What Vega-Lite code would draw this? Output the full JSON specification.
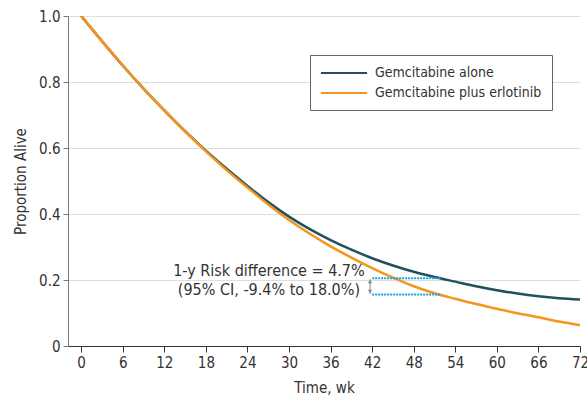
{
  "$schema": "https://vega.github.io/schema/vega-lite/v6.json",
  "width": 512,
  "height": 330,
  "autosize": {"type": "none"},
  "padding": {"left": 68, "top": 16, "right": 7, "bottom": 50},
  "background": "white",
  "config": {
    "font": "DejaVu Sans Condensed, DejaVu Sans, sans-serif",
    "view": {"stroke": null},
    "axis": {"labelFontSize": 15, "titleFontSize": 15, "titleFontWeight": "normal", "labelColor": "#333", "titleColor": "#333"}
  },
  "datasets": {
    "curves": [
      {"t": 0, "s": 1.000, "g": "Gemcitabine alone"},
      {"t": 3, "s": 0.924, "g": "Gemcitabine alone"},
      {"t": 6, "s": 0.850, "g": "Gemcitabine alone"},
      {"t": 9, "s": 0.780, "g": "Gemcitabine alone"},
      {"t": 12, "s": 0.714, "g": "Gemcitabine alone"},
      {"t": 15, "s": 0.651, "g": "Gemcitabine alone"},
      {"t": 18, "s": 0.592, "g": "Gemcitabine alone"},
      {"t": 21, "s": 0.537, "g": "Gemcitabine alone"},
      {"t": 24, "s": 0.485, "g": "Gemcitabine alone"},
      {"t": 27, "s": 0.436, "g": "Gemcitabine alone"},
      {"t": 30, "s": 0.392, "g": "Gemcitabine alone"},
      {"t": 33, "s": 0.354, "g": "Gemcitabine alone"},
      {"t": 36, "s": 0.321, "g": "Gemcitabine alone"},
      {"t": 39, "s": 0.292, "g": "Gemcitabine alone"},
      {"t": 42, "s": 0.266, "g": "Gemcitabine alone"},
      {"t": 45, "s": 0.244, "g": "Gemcitabine alone"},
      {"t": 48, "s": 0.225, "g": "Gemcitabine alone"},
      {"t": 51, "s": 0.209, "g": "Gemcitabine alone"},
      {"t": 54, "s": 0.195, "g": "Gemcitabine alone"},
      {"t": 57, "s": 0.181, "g": "Gemcitabine alone"},
      {"t": 60, "s": 0.169, "g": "Gemcitabine alone"},
      {"t": 63, "s": 0.159, "g": "Gemcitabine alone"},
      {"t": 66, "s": 0.151, "g": "Gemcitabine alone"},
      {"t": 69, "s": 0.145, "g": "Gemcitabine alone"},
      {"t": 72, "s": 0.141, "g": "Gemcitabine alone"},
      {"t": 0, "s": 1.000, "g": "Gemcitabine plus erlotinib"},
      {"t": 3, "s": 0.924, "g": "Gemcitabine plus erlotinib"},
      {"t": 6, "s": 0.850, "g": "Gemcitabine plus erlotinib"},
      {"t": 9, "s": 0.780, "g": "Gemcitabine plus erlotinib"},
      {"t": 12, "s": 0.714, "g": "Gemcitabine plus erlotinib"},
      {"t": 15, "s": 0.650, "g": "Gemcitabine plus erlotinib"},
      {"t": 18, "s": 0.590, "g": "Gemcitabine plus erlotinib"},
      {"t": 21, "s": 0.533, "g": "Gemcitabine plus erlotinib"},
      {"t": 24, "s": 0.480, "g": "Gemcitabine plus erlotinib"},
      {"t": 27, "s": 0.429, "g": "Gemcitabine plus erlotinib"},
      {"t": 30, "s": 0.382, "g": "Gemcitabine plus erlotinib"},
      {"t": 33, "s": 0.340, "g": "Gemcitabine plus erlotinib"},
      {"t": 36, "s": 0.302, "g": "Gemcitabine plus erlotinib"},
      {"t": 39, "s": 0.268, "g": "Gemcitabine plus erlotinib"},
      {"t": 42, "s": 0.236, "g": "Gemcitabine plus erlotinib"},
      {"t": 45, "s": 0.207, "g": "Gemcitabine plus erlotinib"},
      {"t": 48, "s": 0.181, "g": "Gemcitabine plus erlotinib"},
      {"t": 51, "s": 0.160, "g": "Gemcitabine plus erlotinib"},
      {"t": 54, "s": 0.143, "g": "Gemcitabine plus erlotinib"},
      {"t": 57, "s": 0.127, "g": "Gemcitabine plus erlotinib"},
      {"t": 60, "s": 0.113, "g": "Gemcitabine plus erlotinib"},
      {"t": 63, "s": 0.099, "g": "Gemcitabine plus erlotinib"},
      {"t": 66, "s": 0.087, "g": "Gemcitabine plus erlotinib"},
      {"t": 69, "s": 0.074, "g": "Gemcitabine plus erlotinib"},
      {"t": 72, "s": 0.063, "g": "Gemcitabine plus erlotinib"}
    ],
    "box": [
      {"t1": 42, "t2": 52, "s": 0.205},
      {"t1": 42, "t2": 52, "s": 0.156}
    ],
    "arrow": [{"t": 41.7, "s1": 0.158, "s2": 0.203}],
    "heads": [
      {"t": 41.7, "s": 0.196, "shape": "triangle-up"},
      {"t": 41.7, "s": 0.165, "shape": "triangle-down"}
    ],
    "notes": [
      {"t": 27.1, "s": 0.227, "label": "1-y Risk difference = 4.7%"},
      {"t": 27.1, "s": 0.170, "label": "(95% CI, -9.4% to 18.0%)"}
    ]
  },
  "layer": [
    {
      "data": {"name": "curves"},
      "mark": {"type": "line", "interpolate": "monotone", "strokeWidth": 2.5, "clip": true},
      "encoding": {
        "x": {
          "field": "t", "type": "quantitative",
          "scale": {"domain": [-1.9, 72], "nice": false, "zero": false},
          "axis": {
            "title": "Time, wk", "values": [0, 6, 12, 18, 24, 30, 36, 42, 48, 54, 60, 66, 72],
            "grid": false, "domainColor": "#333", "tickColor": "#333", "tickSize": 6,
            "labelPadding": 3, "titlePadding": 10, "labelFlush": false
          }
        },
        "y": {
          "field": "s", "type": "quantitative",
          "scale": {"domain": [0, 1], "nice": false},
          "axis": {
            "title": "Proportion Alive", "values": [0, 0.2, 0.4, 0.6, 0.8, 1.0],
            "labelExpr": "datum.value == 0 ? '0' : format(datum.value, '.1f')",
            "grid": true, "gridColor": "#dedede", "gridWidth": 1,
            "domainColor": "#777", "tickColor": "#777", "tickSize": 5,
            "labelPadding": 3, "titlePadding": 10
          }
        },
        "color": {
          "field": "g", "type": "nominal",
          "scale": {"domain": ["Gemcitabine alone", "Gemcitabine plus erlotinib"], "range": ["#21505e", "#f7941d"]},
          "legend": {
            "title": null, "orient": "none", "legendX": 242, "legendY": 39,
            "symbolType": "M-3.3,0H3.3", "symbolSize": 196, "symbolStrokeWidth": 2,
            "symbolOffset": 16,
            "labelFontSize": 14, "labelColor": "#333", "labelOffset": 23,
            "strokeColor": "#666", "fillColor": "white", "padding": 10,
            "rowPadding": 5, "labelLimit": 300
          }
        }
      }
    },
    {
      "data": {"name": "box"},
      "mark": {"type": "rule", "color": "#1aa3e0", "strokeWidth": 2, "strokeDash": [2, 1]},
      "encoding": {
        "x": {"field": "t1", "type": "quantitative"},
        "x2": {"field": "t2"},
        "y": {"field": "s", "type": "quantitative"}
      }
    },
    {
      "data": {"name": "arrow"},
      "mark": {"type": "rule", "color": "#888", "strokeWidth": 1},
      "encoding": {
        "x": {"field": "t", "type": "quantitative"},
        "y": {"field": "s1", "type": "quantitative"},
        "y2": {"field": "s2"}
      }
    },
    {
      "data": {"name": "heads"},
      "mark": {"type": "point", "filled": true, "size": 18, "color": "#888", "opacity": 1},
      "encoding": {
        "x": {"field": "t", "type": "quantitative"},
        "y": {"field": "s", "type": "quantitative"},
        "shape": {"field": "shape", "type": "nominal", "scale": null}
      }
    },
    {
      "data": {"name": "notes"},
      "mark": {"type": "text", "fontSize": 16, "color": "#333", "align": "center", "baseline": "middle"},
      "encoding": {
        "x": {"field": "t", "type": "quantitative"},
        "y": {"field": "s", "type": "quantitative"},
        "text": {"field": "label"}
      }
    }
  ]
}
